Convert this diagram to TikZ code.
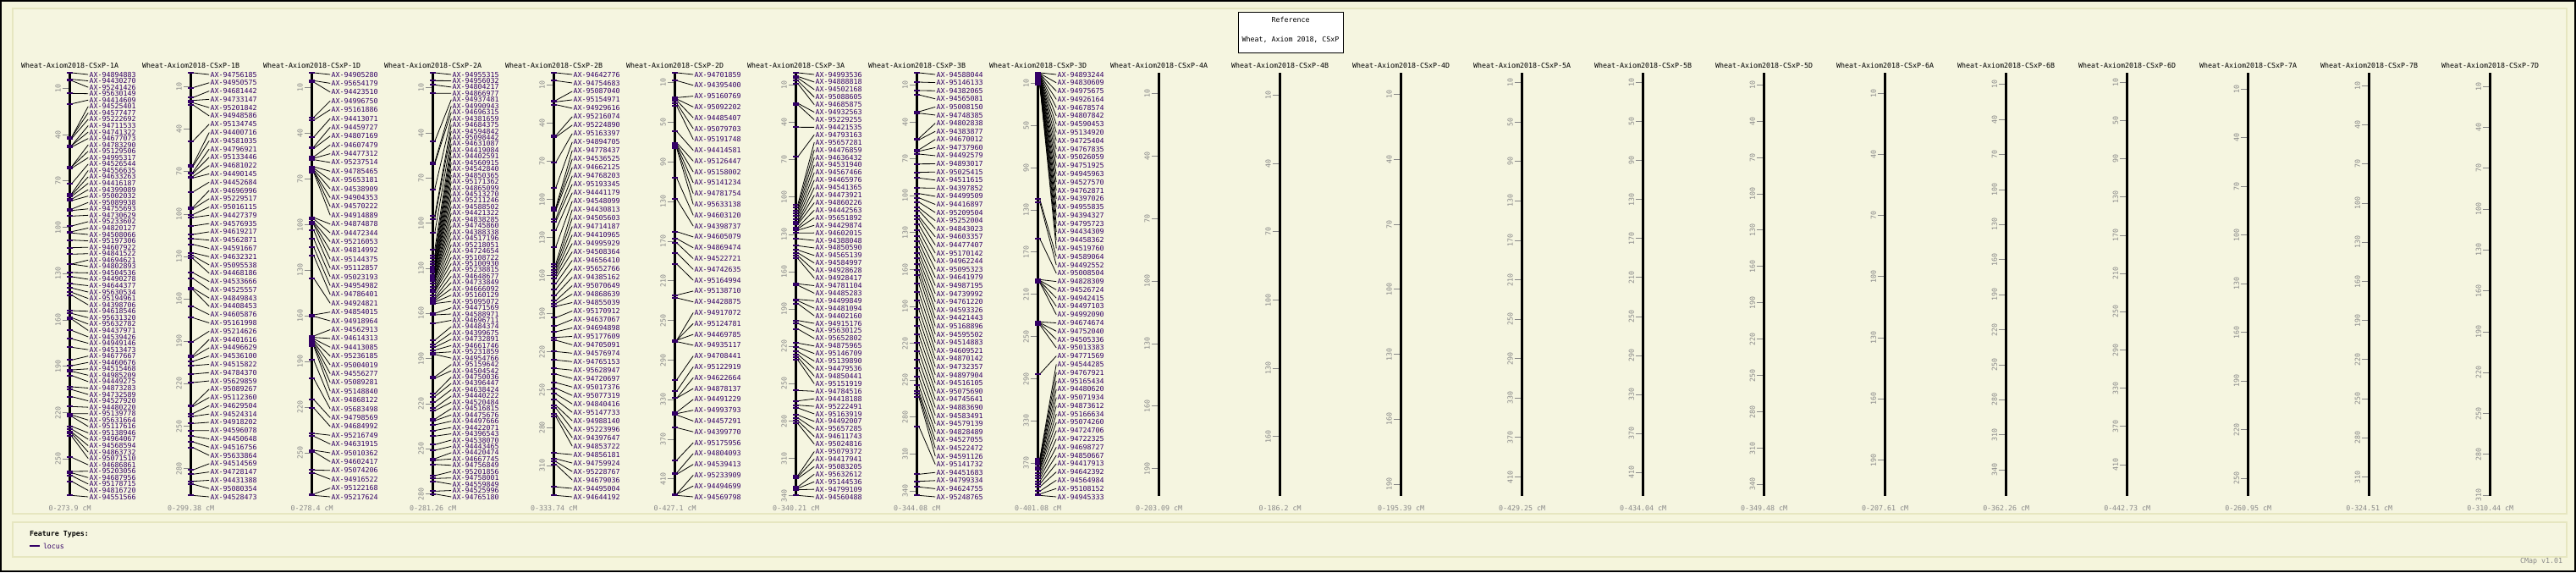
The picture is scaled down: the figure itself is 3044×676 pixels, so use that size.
\documentclass[tikz,border=0pt]{standalone}
\usepackage{fontspec}
\setmonofont{DejaVu Sans Mono}
\usetikzlibrary{positioning,calc}

\definecolor{cmpurple}{HTML}{330066}
\definecolor{cmbg}{HTML}{F5F5DC}
\definecolor{cmpanel}{HTML}{F5F5E0}
\definecolor{cmedge}{HTML}{E6E6C0}
\definecolor{cmgray}{HTML}{888888}
\newcommand{\cmfont}{\ttfamily\fontsize{4.15}{5}\selectfont}

% one linkage group: index, name, length in cM, scale step
\newcommand{\chrbar}[4]{%
  \pgfmathsetmacro{\bx}{82.7+143*#1}
  \pgfmathtruncatemacro{\tb}{10+#4}
  \node[chrtitle] (title#1) at (\bx-57.5,77) {Wheat-Axiom2018-CSxP-#2};
  \draw[chrbody] (\bx,86) coordinate (top#1) -- (\bx,586) coordinate (bot#1);
  \foreach \t in {10,\tb,...,460} {
    \ifdim \t pt < #3pt
      \pgfmathsetmacro{\ty}{86+\t/#3*500}
      \coordinate (st#1-\t) at (\bx-9,\ty);
      \draw[scaletick] (st#1-\t) -- (\bx-1.5,\ty);
      \node[scalelabel] (sl#1-\t) at (\bx-14,\ty) {\t};
    \fi
  }
  \node[rangelabel] (range#1) at (\bx,600) {0-#3 cM};
}
% markers: index, list of barpos/id
\newcommand{\chrmarks}[2]{%
  \pgfmathsetmacro{\bx}{82.7+143*#1}
  \foreach \m/\lab [count=\n] in {#2} {\xdef\nmk{\n}}
  \foreach \m/\lab [count=\k] in {#2} {
    \pgfmathsetmacro{\ly}{88+(\k-1)/(\nmk-1)*499}
    \pgfmathsetmacro{\my}{82+\m/3}
    \coordinate (p#1-\k) at (\bx+2,\my);
    \node[mklabel] (m#1-\k) at (\bx+23,\ly) {AX-\lab};
    \draw[mkline] (p#1-\k) -- ($(m#1-\k.west)+(-1.5,0)$);
    \draw[mktick] (\bx-3.5,\my) -- (\bx+3.5,\my);
  }
}

\begin{document}
\begin{tikzpicture}[x=0.5pt,y=-0.5pt,
    every node/.style={font=\cmfont,inner sep=0pt,outer sep=0pt},
    chrtitle/.style={anchor=west,text=black},
    chrbody/.style={line width=1.5pt,black},
    scaletick/.style={line width=0.5pt,cmgray},
    scalelabel/.style={rotate=90,text=cmgray},
    rangelabel/.style={text=cmgray},
    mklabel/.style={anchor=west,text=cmpurple},
    mkline/.style={line width=0.4pt,black},
    mktick/.style={line width=0.9pt,cmpurple},
    panel/.style={draw=cmedge,line width=1pt,fill=cmpanel}]
\useasboundingbox (0,0) rectangle (3044,676);
\fill[cmbg] (0,0) rectangle (3044,676);
\draw[black,line width=1pt] (1,1) rectangle (3043,675);
\draw[panel] (15,10) rectangle (3033,607);
\draw[panel] (15,617) rectangle (3033,658);

% reference box
\draw[black,fill=white,line width=0.5pt] (1463,14) rectangle (1587,62);
\node (reftitle) at (1525,23) {Reference};
\node (refname) [below=8.5pt of reftitle] {Wheat, Axiom 2018, CSxP};

\chrbar{0}{1A}{273.9}{30}
\chrbar{1}{1B}{299.38}{30}
\chrbar{2}{1D}{278.4}{30}
\chrbar{3}{2A}{281.26}{30}
\chrbar{4}{2B}{333.74}{30}
\chrbar{5}{2D}{427.1}{40}
\chrbar{6}{3A}{340.21}{30}
\chrbar{7}{3B}{344.08}{30}
\chrbar{8}{3D}{401.08}{40}
\chrbar{9}{4A}{203.09}{30}
\chrbar{10}{4B}{186.2}{30}
\chrbar{11}{4D}{195.39}{30}
\chrbar{12}{5A}{429.25}{40}
\chrbar{13}{5B}{434.04}{40}
\chrbar{14}{5D}{349.48}{30}
\chrbar{15}{6A}{207.61}{30}
\chrbar{16}{6B}{362.26}{30}
\chrbar{17}{6D}{442.73}{40}
\chrbar{18}{7A}{260.95}{30}
\chrbar{19}{7B}{324.51}{30}
\chrbar{20}{7D}{310.44}{30}

\chrmarks{0}{12/94894883, 35/94430270, 40/95241426, 85/95630149, 122/94414609, 240/94525401, 240/94577477, 245/95222692, 270/94711533, 270/94741322, 275/94677073, 345/94783290, 345/95129506, 350/94995317, 405/94526544, 440/94556635, 445/94633263, 450/94416187, 460/94399089, 465/95002032, 495/95089938, 500/94755693, 520/94730629, 555/95233602, 575/94820127, 580/94508066, 605/95197306, 632/94607922, 655/94841522, 690/94694621, 690/94802893, 720/94504536, 735/94490278, 760/94644377, 775/95630534, 790/95194961, 800/94398706, 855/94618546, 865/95631320, 880/95632782, 885/94437971, 925/94539426, 955/94949146, 985/94513473, 1030/94677667, 1050/94460676, 1065/94515468, 1070/94985209, 1085/94449275, 1125/94873283, 1135/94732589, 1160/94527920, 1195/94480220, 1220/95139778, 1225/95631664, 1230/95117616, 1265/95138946, 1275/94964067, 1285/94568594, 1290/94863732, 1300/95071510, 1375/94686861, 1425/95203056, 1430/94687956, 1440/95178715, 1460/94816720, 1510/94551566}

\chrmarks{1}{12/94756185, 65/94950575, 100/94681442, 110/94733147, 118/95201842, 125/94948586, 255/95134745, 340/94400716, 345/94581035, 365/94796921, 370/95133446, 380/94681022, 385/94490145, 435/94452684, 490/94696996, 495/95229517, 515/95016115, 525/94427379, 555/94576935, 585/94619217, 600/94562871, 620/94591667, 650/94632321, 660/95095538, 670/94468186, 720/94533666, 740/94525557, 775/94849843, 780/94408453, 840/94605876, 880/95161998, 965/95214626, 1015/94401616, 1020/94496629, 1035/94536100, 1050/94515822, 1080/94784370, 1110/95629859, 1190/95089267, 1195/95112360, 1220/94629504, 1230/94524314, 1255/94918202, 1280/94596078, 1300/94450648, 1320/94516756, 1340/95633864, 1420/94514569, 1435/94728147, 1460/94431388, 1470/95080354, 1510/94528473}

\chrmarks{2}{12/94905280, 40/95654179, 45/94423510, 170/94996750, 180/95161886, 240/94413071, 275/94459727, 280/94807169, 310/94607479, 315/94477312, 320/95237514, 345/94785465, 350/95653181, 355/94538909, 360/94904353, 360/94570222, 365/94914889, 525/94874878, 530/94472344, 540/95216053, 545/94814992, 550/95144375, 570/95112857, 600/95023193, 630/94954982, 660/94786401, 740/94924821, 870/94854015, 875/94918964, 945/94562913, 950/94614313, 955/94413085, 960/95236185, 965/95004019, 970/94556277, 975/95089281, 980/95148840, 1030/94868122, 1095/95683498, 1170/94798569, 1200/94684992, 1290/95216749, 1300/94631915, 1350/95010362, 1355/94602417, 1420/95074206, 1430/94916522, 1505/95122168, 1510/95217624}

\chrmarks{3}{12/94955315, 40/94956032, 55/94804217, 85/94866977, 255/94937481, 330/94990943, 335/94696315, 425/94381659, 520/94684375, 530/94594842, 580/95098442, 640/94631087, 660/94419084, 670/94402591, 680/94560915, 690/94542840, 700/94850365, 705/95171362, 710/94865099, 715/94513270, 720/95211246, 730/94588502, 735/94421322, 740/94838285, 745/94745860, 750/94388338, 760/94517196, 770/95218051, 780/94724654, 785/95108722, 790/95100930, 800/95238815, 810/94648677, 815/94733849, 820/94666092, 825/95160129, 830/95095072, 865/94471569, 870/94588971, 900/94696711, 960/94484374, 975/94399675, 985/94732891, 995/94661746, 1005/95231859, 1010/94954766, 1090/95159642, 1095/94504542, 1150/94750036, 1160/94396447, 1180/94638424, 1200/94440222, 1210/94520484, 1240/94516815, 1245/94475676, 1260/94497666, 1280/94422071, 1300/94396543, 1330/94538070, 1350/94443465, 1380/94420474, 1385/94667745, 1400/94756849, 1440/95201856, 1450/94758001, 1460/94559849, 1495/94525996, 1505/94765180}

\chrmarks{4}{12/94642776, 40/94754683, 110/95087040, 115/95154971, 125/94929616, 235/95216074, 240/95224890, 330/95163397, 420/94894705, 490/94778437, 495/94536525, 500/94662125, 530/94768203, 540/95193345, 570/94441179, 630/94548099, 690/94430813, 700/94505603, 710/94714187, 720/94410965, 730/94995929, 740/94508364, 760/94656410, 780/95652766, 800/94385162, 820/95070649, 830/94868639, 840/94855039, 880/95170912, 910/94637067, 930/94694898, 950/95177609, 960/94705091, 1000/94576974, 1030/94765153, 1060/95628947, 1080/94720697, 1110/95017376, 1130/95077319, 1150/94840416, 1170/95147733, 1190/94988140, 1200/95223996, 1220/94397647, 1230/94853722, 1360/94856181, 1380/94759924, 1390/95228767, 1400/94679036, 1480/94495004, 1510/94644192}

\chrmarks{5}{12/94701859, 40/94395400, 100/95160769, 105/95092202, 110/94485407, 120/95079703, 130/95191748, 220/94414581, 260/95126447, 265/95158002, 270/95141234, 275/94781754, 280/95633138, 385/94603120, 460/94398737, 575/94605079, 600/94869474, 615/94522721, 650/94742635, 690/95164994, 800/95138710, 810/94428875, 960/94917072, 960/95124781, 960/94469785, 965/94935117, 1100/94708441, 1140/95122919, 1165/94622664, 1165/94878137, 1215/94491229, 1220/94993793, 1225/94457291, 1270/94399770, 1385/95175956, 1430/94804093, 1435/94539413, 1505/95233909, 1505/94494699, 1510/94569798}

\chrmarks{6}{12/94993536, 25/94888818, 30/94502168, 40/95088605, 50/94685875, 120/94932563, 125/95229255, 205/94421535, 310/94793163, 480/95657281, 490/94476859, 500/94636432, 510/94531940, 520/94567466, 530/94465976, 540/94541365, 545/94473921, 550/94860226, 560/94442563, 565/95651892, 570/94429874, 580/94602015, 600/94388048, 625/94850590, 640/94565139, 650/94584997, 660/94928628, 670/94928417, 760/94781104, 765/94485283, 815/94499849, 820/94481094, 830/94402160, 890/94915176, 900/95630125, 920/95652802, 970/94875965, 985/95146709, 1000/95139890, 1010/94479536, 1020/94850441, 1030/95151919, 1138/94784516, 1175/94418188, 1190/95222491, 1200/95163919, 1225/94492007, 1235/95657285, 1245/94611743, 1255/95024816, 1440/95079372, 1445/94417941, 1450/95083205, 1480/95632612, 1485/95144536, 1490/94799109, 1510/94560488}

\chrmarks{7}{12/94588044, 45/95146133, 75/94382065, 90/94565081, 150/95008150, 155/94748385, 245/94802838, 250/94383877, 285/94670012, 290/94737960, 300/94492579, 335/94893017, 365/95025415, 385/94511615, 420/94397852, 440/94499509, 455/94416897, 470/95209504, 490/95252004, 500/94843023, 520/94603357, 530/94477407, 550/95170142, 570/94962244, 590/95095323, 610/94641979, 630/94987195, 650/94739992, 670/94761220, 690/94593326, 710/94421443, 730/95168896, 760/94595502, 790/94514883, 820/94609521, 850/94870142, 880/94732357, 910/94897904, 940/94516105, 970/95075690, 1000/94745641, 1030/94883690, 1060/94583491, 1090/94579139, 1120/94828489, 1140/94527055, 1150/94522472, 1160/94591126, 1265/95141732, 1435/94451683, 1460/94799334, 1480/94624755, 1510/95248765}

\chrmarks{8}{12/94893244, 14/94830609, 16/94975675, 18/94926164, 20/94678574, 22/94807842, 24/94590453, 26/95134920, 28/94725404, 30/94767835, 32/95026059, 34/94751925, 36/94945963, 38/94527570, 40/94762871, 42/94397026, 44/94955835, 46/94394327, 48/94795723, 50/94434309, 52/94458362, 54/94519760, 460/94589064, 470/94492552, 600/95008504, 745/94828309, 748/94526724, 750/94942415, 752/94497103, 755/94992090, 895/94674674, 898/94752040, 900/94505336, 905/95013383, 1080/94771569, 1380/94544285, 1385/94767921, 1390/95165434, 1395/94480620, 1400/95071934, 1410/94873612, 1415/95166634, 1420/95074260, 1430/94724706, 1440/94722325, 1450/94698727, 1460/94850667, 1470/94417913, 1480/94642392, 1495/94564984, 1505/95108152, 1510/94945333}

% legend
\node[anchor=west] (ftypes) at (35,631) {\bfseries Feature Types:};
\coordinate (lgA) at (35,645);
\node[anchor=west,text=cmpurple] (locus) at (51,645) {locus};
\draw[cmpurple,line width=0.6pt] (lgA) -- ($(locus.west)+(-4,0)$);
\node[anchor=west,text=cmgray] (version) at (2978,663) {CMap v1.01};
\end{tikzpicture}
\end{document}
